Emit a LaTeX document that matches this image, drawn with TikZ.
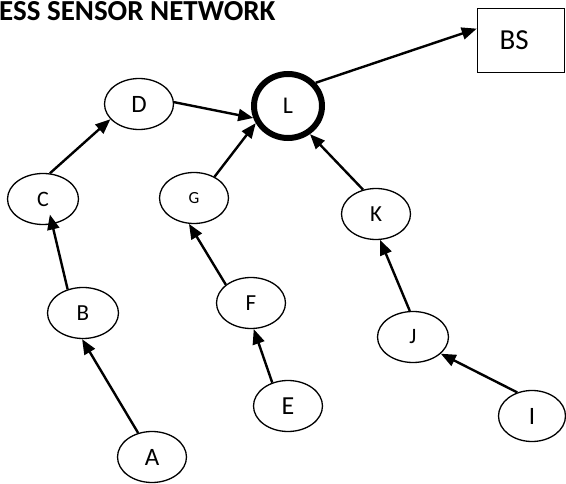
\documentclass[tikz,border=0pt]{standalone}
\usepackage{fontspec}
\setmainfont{Carlito}
\usepackage{tikz}
\usetikzlibrary{arrows.meta,shapes.geometric}

\newcommand{\fs}[1]{\fontsize{#1}{#1}\selectfont}

\begin{document}
\begin{tikzpicture}[x=1pt,y=-1pt,
    sensor/.style={draw, ellipse, line width=1.3pt, minimum width=69pt, minimum height=51pt, inner sep=0pt, font=\fs{22}},
    sink/.style={draw, ellipse, line width=6pt, minimum width=68pt, minimum height=64pt, inner sep=0pt, font=\fs{24}},
    station/.style={draw, rectangle, line width=1.5pt, minimum height=64pt, inner xsep=22pt, text width=43pt, align=left, font=\fs{29}},
    link/.style={line width=2.4pt, -{Triangle[length=15pt,width=12pt]}}]
    \useasboundingbox (0,0) rectangle (566,484);

    \node (title) [anchor=base west, inner sep=0pt, font=\bfseries\fs{29}] at (-1,21) {ESS SENSOR NETWORK};

    \node (BS) [station] at (521,40.5) {BS};
    \node (L) [sink] at (288,106) {L};
    \node (D) [sensor, font=\fs{25}] at (139,104) {D};
    \node (C) [sensor, minimum width=71pt] at (43,199) {C};
    \node (G) [sensor, font=\fs{17}] at (194,198) {G};
    \node (K) [sensor, font=\fs{23}] at (376,214) {K};
    \node (B) [sensor, minimum width=71pt, font=\fs{23}] at (83,313) {B};
    \node (F) [sensor, font=\fs{23}] at (251,303) {F};
    \node (J) [sensor, minimum width=71pt] at (413,337) {J};
    \node (E) [sensor, font=\fs{26}] at (288,406) {E};
    \node (I) [sensor, minimum width=67pt, font=\fs{25}] at (532,416) {I};
    \node (A) [sensor, font=\fs{25}] at (152,457) {A};

    \draw[link] (A.120) -- (B.268);
    \draw[link, shorten >=-10pt] (B.123) -- (C.290);
    \draw[link] (C.75) -- (D.208);
    \draw[link] (D.3) -- (L.199);
    \draw[link] (E.124) -- (F.276);
    \draw[link] (F.144) -- (G.259);
    \draw[link] (G.46) -- (L.208);
    \draw[link] (I.122) -- (J.329);
    \draw[link] (J.97) -- (K.279);
    \draw[link] (K.118) -- (L.308);
    \draw[link] (L.40) -- (BS.165);
\end{tikzpicture}
\end{document}
